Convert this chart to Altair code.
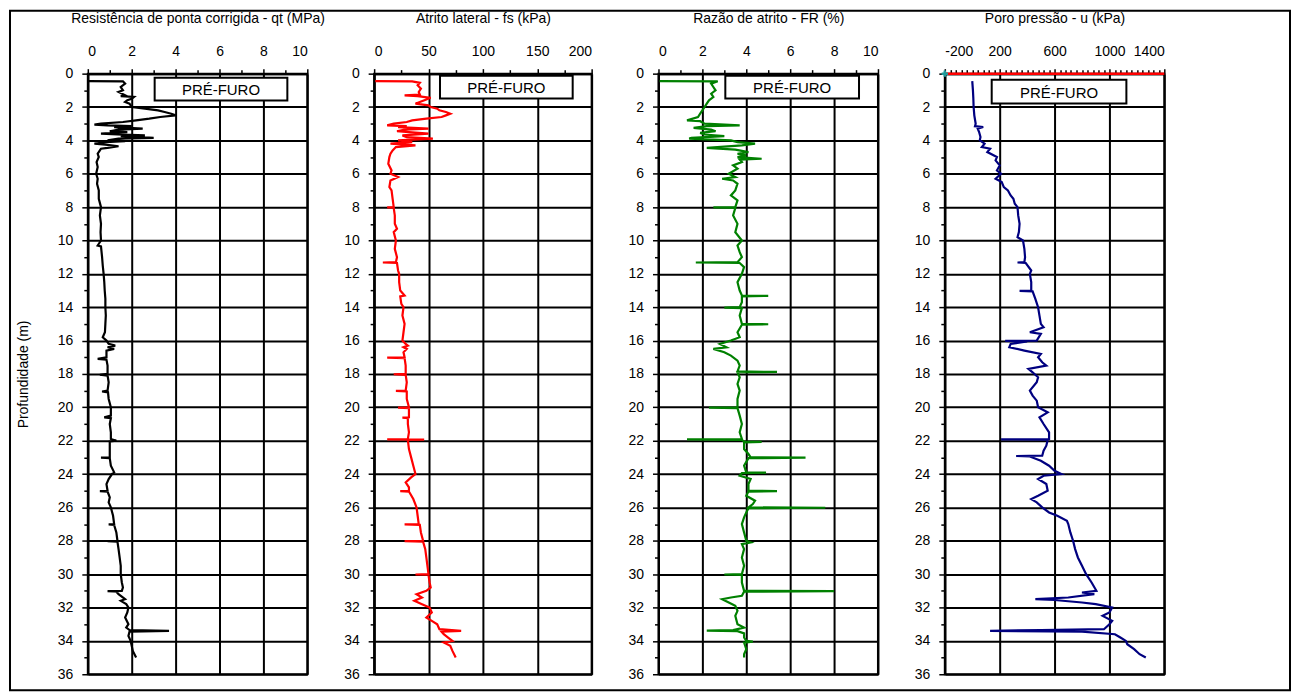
import altair as alt
import pandas as pd

FONT = "Liberation Sans"

# ---------------- data ----------------
qt_depth = [0.45, 0.46, 0.6, 0.8, 1.0, 1.1, 1.3, 1.35, 1.4, 1.5, 1.6, 1.7, 1.8, 2.0, 2.1, 2.2, 2.3, 2.4, 2.5, 2.6,
            2.7, 2.8, 2.9, 3.0, 3.05, 3.1, 3.15, 3.2, 3.3, 3.35, 3.45, 3.5, 3.6, 3.65, 3.7, 3.75, 3.85, 3.9, 4.0, 4.05,
            4.1, 4.2, 4.25, 4.35, 4.45, 4.5, 4.6, 4.8, 5.0, 5.3, 5.6, 6.0, 6.3, 6.6, 7.0, 7.5, 8.0, 8.5, 9.0, 9.5,
            10.0, 10.3, 10.35, 11.0, 11.5, 12.0, 12.5, 13.0, 13.5, 14.0, 14.5, 15.0, 15.5, 15.8, 16.0, 16.2, 16.3, 16.4, 16.5, 16.6,
            17.0, 17.1, 17.15, 17.5, 18.0, 18.05, 18.1, 18.5, 19.0, 19.05, 19.1, 19.5, 20.0, 20.5, 20.6, 20.65, 21.0, 21.5, 21.9, 22.0,
            22.05, 22.5, 23.0, 23.02, 23.05, 23.5, 23.9, 24.0, 24.3, 24.6, 25.0, 25.02, 25.05, 25.4, 25.7, 26.0, 26.5, 27.0, 27.02, 27.05,
            27.5, 28.0, 28.02, 28.05, 28.5, 29.0, 29.5, 30.0, 30.5, 30.8, 31.0, 31.02, 31.05, 31.2, 31.5, 31.6, 31.8, 32.0, 32.3, 32.6,
            33.0, 33.2, 33.35, 33.4, 33.45, 33.7, 34.0, 34.3, 34.6, 35.0]
qt_value = [0.05, 1.6, 1.7, 1.5, 1.6, 1.4, 1.7, 1.5, 2.1, 2.0, 1.8, 1.7, 1.9, 2.0, 2.6, 3.2, 3.5, 3.8, 4.0, 3.3,
            2.8, 2.2, 1.6, 0.6, 0.3, 0.9, 2.0, 1.2, 2.5, 1.4, 1.0, 1.8, 0.6, 1.6, 2.6, 1.5, 3.0, 1.4, 0.9, 1.7,
            0.8, 0.3, 0.8, 1.4, 0.9, 0.6, 0.55, 0.45, 0.5, 0.4, 0.45, 0.38, 0.45, 0.42, 0.5, 0.5, 0.6, 0.55, 0.6, 0.58,
            0.6, 0.45, 0.6, 0.65, 0.68, 0.72, 0.75, 0.77, 0.8, 0.8, 0.82, 0.8, 0.78, 0.68, 0.85, 0.95, 1.25, 0.9, 1.2, 0.85,
            0.85, 0.45, 0.85, 0.9, 0.9, 0.55, 0.9, 0.95, 0.9, 0.65, 0.92, 0.95, 1.05, 1.05, 0.75, 1.05, 1.0, 1.05, 1.05, 1.3,
            1.0, 1.0, 1.0, 0.6, 1.0, 1.05, 1.2, 1.1, 0.95, 0.85, 0.9, 0.55, 0.9, 1.0, 0.95, 1.05, 1.15, 1.2, 0.95, 1.2,
            1.3, 1.35, 0.9, 1.35, 1.4, 1.45, 1.5, 1.5, 1.55, 1.6, 1.55, 0.9, 1.3, 1.4, 1.7, 1.5, 1.75, 1.85, 1.8, 1.7,
            1.85, 1.75, 1.9, 3.7, 1.9, 1.85, 1.95, 2.0, 2.05, 2.2]

fs_depth = [0.45, 0.46, 0.55, 0.7, 0.9, 1.1, 1.25, 1.3, 1.35, 1.45, 1.55, 1.7, 1.8, 1.9, 2.0, 2.1, 2.2, 2.3, 2.4, 2.5,
            2.6, 2.7, 2.8, 2.9, 3.0, 3.1, 3.15, 3.2, 3.3, 3.35, 3.45, 3.5, 3.6, 3.7, 3.8, 3.9, 4.0, 4.1, 4.2, 4.3,
            4.4, 4.6, 4.8, 5.0, 5.4, 5.8, 6.0, 6.2, 6.4, 6.8, 7.0, 7.5, 8.0, 8.02, 8.05, 8.5, 9.0, 9.3, 9.5, 10.0,
            10.5, 11.0, 11.3, 11.32, 11.35, 11.8, 12.0, 12.5, 13.0, 13.3, 13.35, 13.8, 14.0, 14.5, 15.0, 15.5, 16.0, 16.2, 16.3, 16.4,
            16.5, 16.7, 17.0, 17.02, 17.05, 17.5, 18.0, 18.02, 18.05, 18.5, 19.0, 19.02, 19.05, 19.5, 20.0, 20.02, 20.05, 20.6, 20.62, 20.65,
            21.0, 21.5, 21.9, 21.92, 21.94, 21.96, 22.5, 23.0, 23.5, 24.0, 24.2, 24.5, 24.8, 25.0, 25.02, 25.05, 25.5, 26.0, 26.5, 27.0,
            27.02, 27.05, 27.5, 28.0, 28.02, 28.05, 28.5, 29.0, 29.5, 30.0, 30.02, 30.05, 30.5, 30.8, 31.0, 31.2, 31.4, 31.6, 31.8, 32.0,
            32.3, 32.6, 32.8, 33.0, 33.3, 33.4, 33.45, 33.6, 33.8, 34.0, 34.1, 34.3, 34.6, 35.0]
fs_value = [1, 35, 42, 40, 43, 41, 42, 28, 40, 52, 48, 42, 38, 50, 52, 58, 60, 66, 70, 66,
            62, 48, 35, 30, 18, 12, 30, 22, 50, 28, 21, 32, 50, 26, 30, 54, 22, 35, 15, 38,
            20, 17, 15, 14, 13, 16, 15, 22, 15, 14, 16, 17, 18, 12, 18, 19, 19, 21, 18, 20,
            19, 21, 20, 8, 21, 22, 23, 23, 24, 28, 24, 25, 27, 26, 28, 27, 26, 29, 31, 27,
            30, 27, 28, 12, 28, 29, 29, 18, 29, 30, 29, 20, 30, 30, 32, 22, 32, 32, 26, 31,
            31, 32, 31, 12, 46, 31, 32, 34, 36, 38, 34, 29, 32, 32, 24, 32, 36, 39, 40, 41,
            28, 42, 43, 45, 28, 45, 47, 48, 49, 50, 38, 50, 51, 52, 48, 39, 44, 37, 44, 51,
            53, 48, 53, 58, 60, 80, 62, 64, 68, 72, 64, 70, 72, 75]

fr_depth = [0.45, 0.46, 0.6, 0.8, 1.0, 1.2, 1.4, 1.6, 1.8, 2.0, 2.2, 2.4, 2.6, 2.8, 2.85, 3.0, 3.1, 3.15, 3.25, 3.35,
            3.45, 3.55, 3.65, 3.75, 3.85, 3.9, 3.95, 4.0, 4.1, 4.2, 4.3, 4.45, 4.55, 4.7, 4.8, 4.9, 5.0, 5.1, 5.15, 5.3,
            5.5, 5.7, 6.0, 6.2, 6.3, 6.4, 6.6, 7.0, 7.3, 7.6, 8.0, 8.02, 8.05, 8.5, 9.0, 9.5, 10.0, 10.3, 10.7, 11.0,
            11.3, 11.32, 11.35, 11.6, 12.0, 12.5, 13.0, 13.3, 13.32, 13.35, 13.7, 14.0, 14.02, 14.05, 14.5, 15.0, 15.02, 15.05, 15.5, 15.8,
            16.0, 16.2, 16.4, 16.5, 16.7, 16.9, 17.2, 17.5, 17.85, 17.88, 17.9, 18.2, 18.6, 19.0, 19.5, 20.0, 20.02, 20.05, 20.5, 21.0,
            21.5, 21.9, 21.92, 21.95, 22.05, 22.07, 22.1, 22.5, 22.8, 23.0, 23.02, 23.05, 23.5, 23.9, 23.92, 23.95, 24.1, 24.3, 24.6, 25.0,
            25.02, 25.05, 25.3, 25.6, 25.8, 26.0, 26.02, 26.05, 26.3, 26.6, 27.0, 27.5, 28.0, 28.1, 28.2, 28.5, 29.0, 29.5, 30.0, 30.02,
            30.05, 30.5, 31.0, 31.02, 31.05, 31.3, 31.4, 31.5, 31.7, 31.9, 32.2, 32.5, 33.0, 33.2, 33.35, 33.38, 33.42, 33.55, 33.8, 34.0,
            34.05, 34.1, 34.5, 34.8, 35.0]
fr_value = [0.05, 2.7, 2.4, 2.5, 2.6, 2.4, 2.5, 2.3, 2.2, 2.1, 2.0, 1.9, 1.8, 1.3, 1.9, 2.1, 3.7, 2.2, 1.6, 2.4,
            2.6, 1.9, 2.1, 3.0, 1.5, 1.4, 2.5, 3.3, 3.6, 4.4, 3.8, 2.2, 3.5, 4.1, 3.6, 4.0, 3.6, 4.7, 3.7, 3.8,
            3.4, 3.6, 3.2, 3.5, 2.9, 3.4, 3.6, 3.5, 3.3, 3.6, 3.5, 2.5, 3.5, 3.4, 3.6, 3.5, 3.8, 3.6, 3.7, 3.8,
            3.6, 1.7, 3.7, 3.9, 3.8, 3.6, 3.7, 3.8, 5.0, 3.8, 3.8, 3.7, 3.0, 3.8, 3.7, 3.8, 5.0, 3.8, 3.6, 3.7,
            3.3, 2.8, 3.1, 2.5, 3.0, 3.3, 3.6, 3.7, 3.6, 5.4, 3.6, 3.7, 3.6, 3.7, 3.6, 3.6, 2.3, 3.6, 3.7, 3.8,
            3.7, 3.8, 1.3, 3.8, 3.9, 4.7, 3.9, 3.9, 4.1, 4.2, 6.7, 4.1, 3.9, 4.0, 4.9, 3.8, 3.7, 4.2, 4.1, 4.1,
            5.4, 4.1, 4.0, 4.4, 4.3, 4.1, 7.6, 4.1, 4.0, 3.9, 3.8, 3.9, 4.0, 4.2, 3.8, 3.9, 3.8, 3.9, 3.8, 3.0,
            3.8, 3.8, 3.9, 8.0, 3.9, 3.8, 3.3, 2.9, 3.2, 3.5, 3.6, 3.5, 3.6, 3.9, 3.4, 2.2, 3.6, 3.9, 3.9, 4.0,
            4.3, 3.9, 4.0, 3.9, 3.9]

u_depth = [0.45, 1.0, 1.5, 2.0, 2.5, 3.0, 3.15, 3.2, 3.3, 3.5, 3.8, 4.0, 4.2, 4.4, 4.5, 4.7, 5.0, 5.2, 5.5, 5.8,
           6.0, 6.3, 6.5, 6.8, 7.0, 7.3, 7.5, 7.8, 8.0, 8.5, 9.0, 9.5, 9.8, 10.0, 10.5, 11.0, 11.3, 11.32, 11.35, 11.8,
           12.0, 12.5, 13.0, 13.02, 13.05, 13.5, 14.0, 14.5, 15.0, 15.2, 15.5, 15.6, 16.0, 16.02, 16.05, 16.2, 16.4, 16.6, 16.8, 17.0,
           17.3, 17.5, 17.7, 17.9, 18.2, 18.5, 19.0, 19.3, 19.6, 20.0, 20.3, 20.6, 21.0, 21.5, 21.9, 21.92, 21.95, 22.3, 22.6, 22.9,
           22.92, 22.95, 23.2, 23.5, 23.8, 24.0, 24.1, 24.3, 24.6, 25.0, 25.3, 25.5, 25.7, 26.0, 26.3, 26.5, 26.8, 27.0, 27.5, 28.0,
           28.5, 29.0, 29.5, 30.0, 30.5, 31.0, 31.1, 31.2, 31.4, 31.5, 31.55, 31.7, 31.8, 32.0, 32.3, 32.5, 32.8, 33.0, 33.3, 33.35,
           33.4, 33.45, 33.6, 33.8, 34.0, 34.2, 34.5, 34.8, 35.0]
u_value = [0, 5, 8, 10, 15, 25, 20, 80, 40, 50, 60, 55, 90, 70, 130, 110, 180, 170, 200, 180,
           210, 170, 215, 230, 260, 280, 300, 310, 330, 335, 345, 340, 330, 370, 380, 385, 380, 330, 390, 430,
           420, 430, 430, 345, 440, 460, 480, 490, 500, 520, 420, 500, 470, 240, 400, 280, 270, 380, 500, 480,
           510, 540, 410, 440, 480, 470, 420, 440, 470, 480, 550, 490, 520, 560, 560, 210, 550, 540, 520, 510,
           320, 420, 500, 560, 600, 650, 520, 480, 540, 550, 480, 430, 470, 510, 560, 620, 690, 700, 715, 735,
           750, 770, 800, 830, 870, 905, 800, 890, 700, 460, 600, 800, 900, 1020, 1000, 950, 1020, 1000, 960, 500,
           130, 800, 1040, 1080, 1120, 1130, 1180, 1220, 1265]

# reference line of the pore-pressure panel (red, at depth 0) and its start marker
u0_depth = [0, 0]
u0_value = [-200, 1400]
marker_depth = [0]
marker_value = [-200]

panel_titles = ["Resistência de ponta corrigida - qt (MPa)", "Atrito lateral - fs (kPa)",
                "Razão de atrito - FR (%)", "Poro pressão - u (kPa)"]
box_label = ["PRÉ-FURO"]


def frame(depth, value):
    return pd.DataFrame({"depth": depth, "value": value, "i": list(range(len(depth)))})


def cond(test, a, b):
    return {"condition": {"test": test, "value": a}, "value": b}


HEIGHT = 602
EVEN = "datum.value % 2 == 0"


def y_enc(with_title):
    kw = dict(
        values=list(range(0, 37)),
        labelExpr="datum.value % 2 == 0 ? datum.label : ''",
        labelOverlap=False,
        gridOpacity=cond(EVEN, 1, 0),
        tickSize=cond(EVEN, 6, 4),
        labelPadding=9,
        title="Profundidade (m)" if with_title else None,
        titlePadding=27,
    )
    return alt.Y("depth:Q", scale=alt.Scale(domain=[0, 36], reverse=True, nice=False, zero=False),
                 axis=alt.Axis(**kw))


def x_enc(title, domain, values, major, label_expr):
    return alt.X("value:Q", scale=alt.Scale(domain=domain, nice=False, zero=False),
                 axis=alt.Axis(orient="top", title=title, values=values, labelExpr=label_expr,
                               labelOverlap=False,
                               gridOpacity=cond(major, 1, 0), tickSize=cond(major, 5, 4),
                               labelPadding=10, titlePadding=19))


def box_layers(x0, x1, y0, y1):
    lab = pd.DataFrame({"label": box_label})
    rect = alt.Chart(lab).mark_rect(fill="white", stroke="black", strokeWidth=2).encode(
        x=alt.value(x0), x2=alt.value(x1), y=alt.value(y0), y2=alt.value(y1))
    txt = alt.Chart(lab).mark_text(font=FONT, fontSize=15, color="black").encode(
        x=alt.value((x0 + x1) / 2), y=alt.value((y0 + y1) / 2 + 1), text="label:N")
    return [rect, txt]


def panel(df, color, xe, with_ytitle, width, box, extra=None, border=False):
    ye = y_enc(with_ytitle)
    line = alt.Chart(df).mark_line(color=color, strokeWidth=2.2).encode(x=xe, y=ye, order="i:Q")
    layers = [line]
    if extra:
        for data, mark in extra:
            layers.append(alt.Chart(data).mark_line(**mark).encode(x=xe, y=ye)
                          if mark.pop("kind") == "line"
                          else alt.Chart(data).mark_point(**mark).encode(x=xe, y=ye))
    layers += box_layers(*box)
    if border:
        lab = pd.DataFrame({"label": box_label})
        layers.append(alt.Chart(lab).mark_rect(fill="white", fillOpacity=0, stroke="black", strokeWidth=2).encode(
            x=alt.value(-78), x2=alt.value(1205), y=alt.value(-63), y2=alt.value(618)))
    return alt.layer(*layers).properties(width=width, height=HEIGHT)


p1 = panel(frame(qt_depth, qt_value), "black",
           x_enc(panel_titles[0], [0, 10], list(range(0, 11)), EVEN,
                 "datum.value % 2 == 0 ? datum.label : ''"),
           True, 220, (67, 200, 4, 27), border=True)

p2 = panel(frame(fs_depth, fs_value), "#ff0000",
           x_enc(panel_titles[1], [0, 200], list(range(0, 201, 25)), "datum.value % 50 == 0",
                 "datum.value % 50 == 0 ? datum.label : ''"),
           False, 218, (66, 199, 2, 25))

p3 = panel(frame(fr_depth, fr_value), "#008000",
           x_enc(panel_titles[2], [0, 10], list(range(0, 11)), EVEN,
                 "datum.value % 2 == 0 ? datum.label : ''"),
           False, 220, (67, 201, 2, 25))

u_x = x_enc(panel_titles[3], [-200, 1400], list(range(-200, 1401, 40)), "(datum.value + 200) % 400 == 0",
            "(datum.value + 200) % 400 == 0 ? '' + datum.value : ''")
p4 = panel(frame(u_depth, u_value), "#000080", u_x, False, 220, (47, 182, 6, 30),
           extra=[(frame(u0_depth, u0_value), dict(kind="line", color="#ff0000", strokeWidth=2.5)),
                  (frame(marker_depth, marker_value), dict(kind="point", shape="cross", filled=True,
                                                           color="#1f9a9a", size=40, opacity=1))])

chart = alt.hconcat(p1, p2, p3, p4, spacing=67, bounds="flush").properties(
    padding=0, background="white"
).configure_view(
    stroke="black", strokeWidth=2
).configure_axis(
    labelFont=FONT, titleFont=FONT, labelFontSize=14, titleFontSize=14,
    labelColor="black", titleColor="black", titleFontWeight="normal",
    gridColor="black", gridWidth=2, tickColor="black", tickWidth=1.5,
    domainColor="black", domainWidth=2
)

chart.save("out.html", embed_options={"renderer": "svg", "actions": False})
